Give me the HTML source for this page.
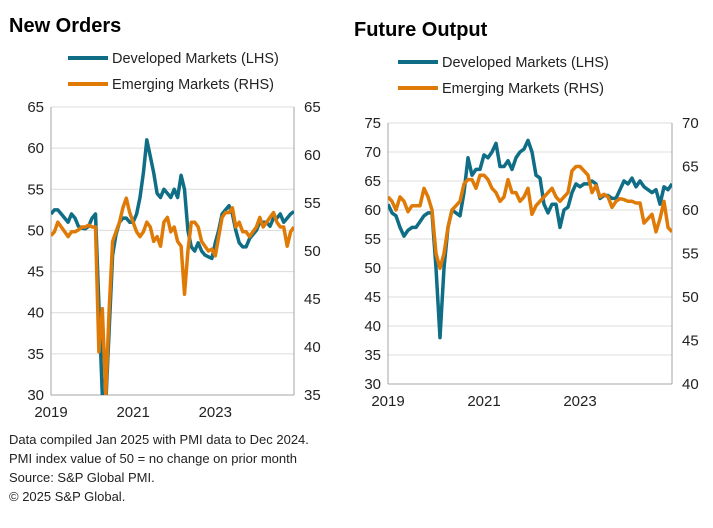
<!DOCTYPE html>
<html><head><meta charset="utf-8"><style>
body{margin:0;background:#fff;width:713px;height:528px;overflow:hidden;font-family:"Liberation Sans",sans-serif;}
svg{position:absolute;left:0;top:0}
</style></head><body>
<svg id="c" width="713" height="528" font-family="Liberation Sans, sans-serif"></svg>
<script>
const years=["2019","2021","2023"];
const yearMonths=[0,24,48];
const noDM=[52,52.5,52.5,52,51.5,51,52,51.5,50.5,50.3,50.2,50.5,
51.5,52,41,30,29,38,47,49.5,51,51.5,51.5,51,
51,52,54,57,61,59,57,54.5,54,55,54.5,54,
55,54,56.7,55,50,48,47.5,48.5,47.5,47,46.8,46.6,
48.5,50,52,52.5,53,52,50,48.5,48,48,49,49.5,
50,51,51,51,50.5,51.5,51.5,52,51,51.5,52,52.3];
const noEM=[51.6,52,53,52.5,52,51.5,52,52,52.2,52.5,52.5,52.7,
52.5,52.5,39.5,44,35,44,51,52,53,54.5,55.5,54,
53,52,51.5,52,53,52.5,51,51.5,50.5,53,53.5,52,
52.5,51,50.5,45.5,50,53,53,52.5,51,50.5,50,50.2,
49.5,51.5,53.5,54,54,54.5,52.5,53,52,52,51.5,52,
52.5,53.5,52.5,53,53.5,54,53,52.5,52.5,50.5,52,52.5];
const foDM=[61,59.5,59,57,55.5,56.5,57,57,58,59,59.5,59.5,
50,38,50,57,60,59.5,59,63,69,66,67,67,
69.5,69,70,71.5,67.5,67.5,68.5,67,69,70,70.5,72,
70,66,65.5,61,59.5,61,61,57,60,60.5,63,64.5,
64,64.5,64.5,65,64.5,62,62.5,62.5,62,62,63.5,65,
64.5,65.5,64,65,64,63.5,63,63.5,61,64,63.5,64.5];
const foEM=[61.5,61,60,61.5,61,59.8,60.5,60.5,60.5,62.5,61.5,60,
55,53.3,55,58,60,60.5,61,63,63.5,63.5,62.5,64,
64,63.5,62.5,62,61,61.5,63.5,62,62,61,61.5,62.5,
59.5,60.5,61,61.5,62,62.5,61.5,61,61.5,62,64.5,65,
65,64.5,64,62,62.8,61.5,61.8,61.5,60.3,61,61.3,61.2,
61,61,60.8,60.8,58.5,59,59.5,57.5,59,61,58,57.5];
const noLTicks=[65,60,55,50,45,40,35,30];
const noRTicks=[65,60,55,50,45,40,35];
const foLTicks=[75,70,65,60,55,50,45,40,35,30];
const foRTicks=[70,65,60,55,50,45,40];

const svg=document.getElementById('c');
const NS='http://www.w3.org/2000/svg';
function mk(t,a,p){const e=document.createElementNS(NS,t);for(const k in a)e.setAttribute(k,a[k]);(p||svg).appendChild(e);return e;}
function txt(x,y,s,opt,p){const e=mk('text',Object.assign({x:x,y:y,'font-size':14,fill:'#222'},opt||{}),p);e.textContent=s;return e;}

function panel(name,x0,x1,y0,y1,lMax,lMin,rMax,rMin,lT,rT,dm,em){
  const g=mk('g',{});
  
  
  const n=dm.length;
  const X=i=>x0+(x1-x0)*i/(n-1);
  const YL=v=>y1-(v-lMin)/(lMax-lMin)*(y1-y0);
  const YR=v=>y1-(v-rMin)/(rMax-rMin)*(y1-y0);
  lT.forEach(v=>{
    const l=mk('line',{x1:x0,x2:x1,y1:YL(v),y2:YL(v),stroke:v===lMin?'#a6a6a6':'#dcdcdc','stroke-width':1},g);
    
    
    const t=txt(x0-7,YL(v)+5,String(v),{'text-anchor':'end','font-size':15},g);
    
    
  });
  rT.forEach(v=>{
    const t=txt(x1+10,YR(v)+5,String(v),{'font-size':15},g);
    
    
  });
  mk('line',{x1:x0,x2:x0,y1:y0,y2:y1,stroke:'#a6a6a6'},g);
  mk('line',{x1:x1,x2:x1,y1:y0,y2:y1,stroke:'#a6a6a6'},g);
  years.forEach((s,i)=>{
    const t=txt(X(yearMonths[i]),y1+22,s,{'text-anchor':'middle','font-size':15},g);
    
    
  });
  const cl=mk('clipPath',{id:'cp'+name},g);
  mk('rect',{x:x0,y:y0-5,width:x1-x0,height:y1-y0+5},cl);
  const pd=dm.map((v,i)=>(i?'L':'M')+X(i).toFixed(1)+','+YL(v).toFixed(1)).join('');
  const pe=em.map((v,i)=>(i?'L':'M')+X(i).toFixed(1)+','+YR(v).toFixed(1)).join('');
  const a=mk('path',{d:pd,fill:'none',stroke:'#0f6e86','stroke-width':3.5,'stroke-linejoin':'round','clip-path':'url(#cp'+name+')'},g);
  
  
  const b=mk('path',{d:pe,fill:'none',stroke:'#e07a06','stroke-width':3.5,'stroke-linejoin':'round','clip-path':'url(#cp'+name+')'},g);
  
  
}
function legend(name,x,y){
  const g=mk('g',{});
  
  
  mk('line',{x1:x,x2:x+40,y1:y,y2:y,stroke:'#0f6e86','stroke-width':4},g);
  txt(x+44,y+5,'Developed Markets (LHS)',{'font-size':14.5},g);
  mk('line',{x1:x,x2:x+40,y1:y+26,y2:y+26,stroke:'#e07a06','stroke-width':4},g);
  txt(x+44,y+31,'Emerging Markets (RHS)',{'font-size':14.5},g);
}
let t=txt(9,32,'New Orders',{'font-size':20,'font-weight':'bold',fill:'#000'});


t=txt(354,36,'Future Output',{'font-size':20,'font-weight':'bold',fill:'#000'});


legend('new-orders',68,58);
legend('future-output',398,62);
panel('new-orders',51,294,107,395,65,30,65,35,noLTicks,noRTicks,noDM,noEM);
panel('future-output',388,672,123,384,75,30,70,40,foLTicks,foRTicks,foDM,foEM);
const notes=['Data compiled Jan 2025 with PMI data to Dec 2024.','PMI index value of 50 = no change on prior month','Source: S&P Global PMI.','© 2025 S&P Global.'];
notes.forEach((s,i)=>{
  const e=txt(9,444+i*19,s,{'font-size':13});
  
  
});
</script>
</body></html>
